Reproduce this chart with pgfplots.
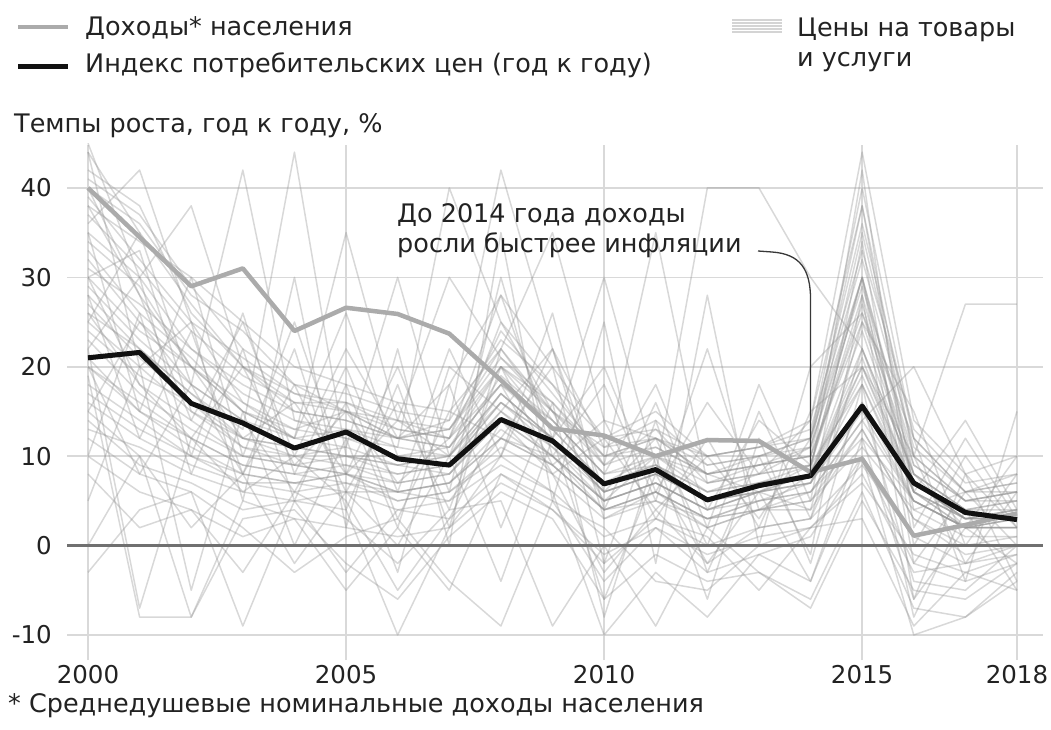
\documentclass[border=0pt]{standalone}
\usepackage{pgfplots}
\pgfplotsset{compat=1.18}
\usepackage{pgfplotstable}
\usepackage{fontspec}
\setmainfont{DejaVu Sans}
\definecolor{txt}{HTML}{222222}
\definecolor{gridc}{HTML}{D9D9D9}
\definecolor{zeroc}{HTML}{707070}
\definecolor{inc}{HTML}{ABABAB}
\definecolor{cpi}{HTML}{111111}
\definecolor{pricec}{HTML}{939393}
\definecolor{stripe}{HTML}{D4D4D4}

% each row: one price series, 2000..2018
\pgfplotstableread{
a0 a1 a2 a3 a4 a5 a6 a7 a8 a9 a10 a11 a12 a13 a14 a15 a16 a17 a18
40 36 28 24 18 15 12 11 18 14 8 9 6 7 8 22 8 4 4
25 20 15 12 10 11 9 10 16 12 6 8 5 6 9 18 6 3 3
45 30 38 20 15 14 12 13 22 15 10 12 8 9 10 35 10 5 6
18 14 10 8 7 8 6 7 12 10 4 6 3 5 6 12 5 2 3
32 25 18 42 14 12 10 11 20 13 7 10 6 8 9 28 7 3 4
22 -7 12 6 10 5 -5 3 14 8 -3 4 -2 2 3 16 -4 -5 0
36 42 25 16 12 13 11 40 25 18 9 13 7 8 11 30 9 5 5
12 8 6 -9 5 4 -10 2 10 6 -10 -3 -8 -1 -4 10 -10 -8 -3
28 22 17 13 44 10 9 8 15 11 5 7 4 6 7 20 6 2 2
40 28 20 15 12 35 14 12 28 20 12 15 10 11 12 40 12 6 8
15 10 -8 5 3 -5 2 -5 8 4 -2 3 1 -5 2 8 -3 -2 -1
30 24 20 16 13 15 12 14 42 22 11 14 9 10 12 32 11 6 7
20 16 12 9 8 9 7 8 14 10 5 7 4 6 7 15 5 2 2
38 34 30 25 20 18 16 15 22 35 14 12 10 11 14 44 14 8 10
26 18 14 10 9 10 8 9 17 12 30 9 5 7 8 20 7 3 3
8 2 4 -3 6 3 -2 4 5 -9 0 -9 2 -3 -7 5 -5 -6 -2
35 30 22 18 15 14 12 13 20 16 9 35 7 9 10 25 8 4 5
24 19 16 12 11 10 10 9 16 11 6 8 40 40 30 22 6 3 4
42 38 26 20 16 16 13 12 24 17 10 11 8 9 11 38 10 27 27
16 12 9 7 6 7 5 6 11 8 3 5 2 4 5 11 4 1 1
-3 4 6 2 -3 1 3 -4 -9 5 2 -4 -5 0 2 3 -9 -3 -5
33 26 21 15 13 12 11 10 19 14 8 10 7 8 9 30 8 4 5
21 15 11 8 7 6 6 7 13 9 4 6 3 5 6 14 20 8 2
44 35 27 20 17 15 14 30 21 15 11 12 9 10 12 36 12 6 7
27 21 16 11 10 9 8 9 15 10 5 7 4 6 7 18 5 2 3
14 9 7 4 5 6 4 5 9 6 1 3 0 2 3 9 1 -2 0
37 31 24 19 16 15 13 12 20 15 9 11 8 9 10 26 9 5 6
19 -8 -8 3 4 -2 -6 1 6 3 -6 -1 -4 -3 -6 6 -7 -8 -4
31 27 22 17 14 13 12 11 18 13 7 9 6 7 8 24 7 3 4
23 17 13 10 9 8 7 8 14 10 5 7 4 5 7 16 5 2 2
34 29 20 15 12 11 30 10 17 12 7 9 5 7 9 27 7 3 3
29 23 18 14 12 26 10 9 16 12 6 8 5 6 8 21 6 3 3
10 6 4 1 3 2 1 2 7 4 -1 2 -1 1 2 7 -1 -3 -1
41 37 29 22 18 17 15 14 23 18 12 13 10 11 13 33 13 7 8
17 13 10 7 7 8 6 5 12 9 4 5 3 4 5 13 3 0 1
26 22 17 12 11 10 9 10 17 12 6 8 5 6 8 19 6 2 3
30 33 15 11 9 8 5 6 10 22 3 6 2 4 4 13 3 -1 0
13 11 8 6 5 -3 4 3 8 5 -4 2 -3 -1 1 10 -2 -4 -2
39 32 25 21 17 16 14 13 21 16 10 12 8 10 11 29 10 5 6
20 15 12 9 8 7 6 7 12 9 4 6 3 4 6 14 5 2 2
28 12 24 8 18 6 16 4 20 9 14 3 12 2 15 20 10 -2 6
10 26 8 22 5 18 3 15 12 20 -2 14 -3 10 -1 28 -6 8 -4
35 15 30 10 25 8 20 6 30 10 18 5 22 4 8 42 2 12 3
5 20 -5 15 0 12 -3 18 2 16 -8 10 -6 12 -2 18 -8 4 -5
22 30 10 26 8 20 6 22 10 26 4 16 2 18 5 34 0 10 2
44 20 25 5 30 2 22 0 35 5 25 -2 28 0 20 26 12 -4 15
30 18 12 20 9 15 7 12 18 8 12 4 10 3 12 30 4 6 0
15 25 20 12 16 8 14 10 25 15 5 10 8 6 4 25 15 0 8
20 8 18 14 6 16 2 20 15 22 6 12 0 15 3 22 8 2 10
38 28 14 25 10 22 12 18 28 12 20 6 16 8 14 38 6 14 4
25 35 18 8 22 4 18 2 22 14 8 18 4 14 9 30 -2 6 6
0 10 2 8 -2 6 0 10 -4 12 -6 8 -2 6 -4 12 -6 2 -2
}\pricesraw
\pgfplotstabletranspose{\prices}{\pricesraw}

\pgfplotstableread{
year income cpi
2000 40.0 21.0
2001 34.5 21.6
2002 29.0 15.9
2003 31.0 13.7
2004 24.0 10.9
2005 26.6 12.7
2006 25.9 9.7
2007 23.7 9.0
2008 18.5 14.1
2009 13.1 11.7
2010 12.3 6.9
2011 10.0 8.5
2012 11.8 5.1
2013 11.7 6.7
2014 8.2 7.8
2015 9.7 15.6
2016 1.1 7.0
2017 2.3 3.7
2018 3.6 2.9
}\main

\begin{document}
\begin{tikzpicture}[font=\fontsize{25.5}{30}\selectfont, text=txt]
\path[use as bounding box] (0pt,0pt) rectangle (1051pt,729pt);
\begin{axis}[
  at={(67pt,69pt)}, anchor=south west,
  scale only axis, width=976pt, height=515pt,
  xmin=1999.593, xmax=2018.504, ymin=-12.8, ymax=44.8,
  clip=false,
  axis line style={draw=none}, major tick style={draw=none},
  xtick={2000,2005,2010,2015,2018},
  xticklabels={2000,2005,2010,2015,2018},
  ytick={-10,0,10,20,30,40},
  yticklabels={-10,0,10,20,30,40},
  grid=major, major grid style={gridc, line width=1.6pt},
  tick label style={font=\fontsize{24.5}{29}\selectfont, text=txt},
  yticklabel style={anchor=east, inner sep=0pt, xshift=-15pt},
  xticklabel style={anchor=north, inner sep=0pt, yshift=-5pt},
]
\pgfplotsinvokeforeach{1,...,52}{
  \addplot[pricec, draw opacity=0.36, line width=1.5pt, line join=round]
    table[x expr=\coordindex+2000, y index=#1] {\prices};
}
\draw[zeroc, line width=2.6pt] (axis cs:1999.593,0) -- (axis cs:2018.504,0);
\addplot[inc, line width=4.5pt, line join=round] table[x=year, y=income] {\main};
\addplot[cpi, line width=5pt, line join=round] table[x=year, y=cpi] {\main};
\coordinate (p14) at (axis cs:2014,7.8);
\coordinate (p14t) at (axis cs:2014,27.5);
\end{axis}
\draw[txt!90, line width=1.3pt] (758pt,478pt) -- (772pt,477pt)
  .. controls (800pt,475pt) and (p14t |- 0,460pt) .. (p14t) -- (p14);
% legend
\draw[inc, line width=4.5pt] (18pt,702pt) -- (68pt,702pt);
\draw[cpi, line width=5pt] (18pt,662pt) -- (68pt,662pt);
\node[anchor=base west, inner sep=0pt] at (85pt,693pt) {Доходы* населения};
\node[anchor=base west, inner sep=0pt] at (85pt,656pt) {Индекс потребительских цен (год к году)};
\foreach \yy in {697,700,703,706,709} {\draw[stripe, line width=1.4pt] (732pt,\yy pt) -- (782pt,\yy pt);}
\node[anchor=base west, inner sep=0pt] at (797pt,692pt) {Цены на товары};
\node[anchor=base west, inner sep=0pt] at (797pt,662pt) {и услуги};
\node[anchor=base west, inner sep=0pt] at (14pt,596pt) {Темпы роста, год к году, \%};
% annotation
\node[anchor=base west, inner sep=0pt] at (397pt,506pt) {До 2014 года доходы};
\node[anchor=base west, inner sep=0pt] at (397pt,476pt) {росли быстрее инфляции};
% footnote
\node[anchor=base west, inner sep=0pt] at (8pt,17pt) {* Среднедушевые номинальные доходы населения};
\end{tikzpicture}
\end{document}
